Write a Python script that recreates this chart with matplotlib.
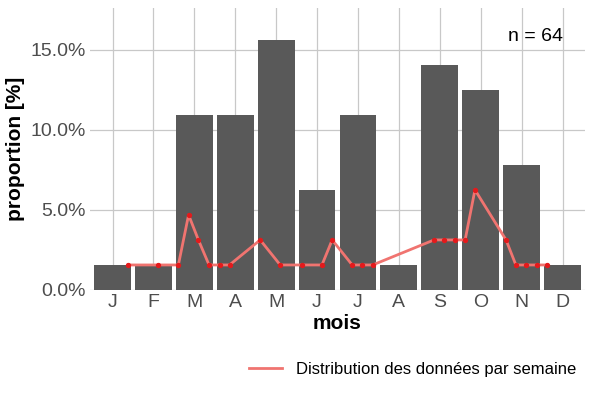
import matplotlib
matplotlib.use("Agg")
import matplotlib.pyplot as plt
from matplotlib.ticker import FuncFormatter

plt.rcParams['font.family'] = ['Liberation Sans', 'DejaVu Sans']

months = ["J", "F", "M", "A", "M", "J", "J", "A", "S", "O", "N", "D"]
month_pct = [1.5625, 1.5625, 10.9375, 10.9375, 15.625, 6.25, 10.9375, 1.5625,
             14.0625, 12.5, 7.8125, 1.5625]

# weekly distribution, x in month units
week_x = [1.38, 2.11, 2.61, 2.86, 3.10, 3.36, 3.62, 3.86, 4.61, 5.10, 5.62, 6.12,
          6.37, 6.86, 7.11, 7.36, 8.86, 9.11, 9.36, 9.62, 9.86, 10.62, 10.86,
          11.12, 11.37, 11.61]
week_pct = [1.5625, 1.5625, 1.5625, 4.6875, 3.125, 1.5625, 1.5625, 1.5625, 3.125,
            1.5625, 1.5625, 1.5625, 3.125, 1.5625, 1.5625, 1.5625, 3.125, 3.125,
            3.125, 3.125, 6.25, 3.125, 1.5625, 1.5625, 1.5625, 1.5625]

fig = plt.figure(figsize=(6, 4), dpi=100)
ax = fig.add_axes([0.150, 0.275, 0.825, 0.705])
x = range(1, 13)
ax.bar(x, month_pct, width=0.9, color="#595959", zorder=2)
ax.plot(week_x, week_pct, color="#f07470", lw=2, zorder=3,
        label="Distribution des données par semaine")
ax.scatter(week_x, week_pct, color="#e31a1c", s=8, zorder=4)

ax.set_xlim(0.45, 12.55)
ax.set_ylim(0, 17.6)
ax.set_xticks(list(x))
ax.set_xticklabels(months)
ax.set_yticks([0, 5, 10, 15])
ax.yaxis.set_major_formatter(FuncFormatter(lambda v, p: "%.1f%%" % v))
ax.grid(True, color="#c8c8c8", lw=0.9, zorder=0)
ax.set_axisbelow(True)
for s in ax.spines.values():
    s.set_visible(False)
ax.tick_params(length=0, labelsize=14, colors="#4d4d4d", pad=3)
ax.set_xlabel("mois", fontsize=15, fontweight="bold", labelpad=2)
ax.set_ylabel("proportion [%]", fontsize=15, fontweight="bold")
ax.text(0.955, 0.9, "n = 64", transform=ax.transAxes, ha="right", va="center", fontsize=14)

fig.legend(loc="lower right", bbox_to_anchor=(0.985, 0.02), frameon=False, fontsize=12)
fig.savefig("out.png")
